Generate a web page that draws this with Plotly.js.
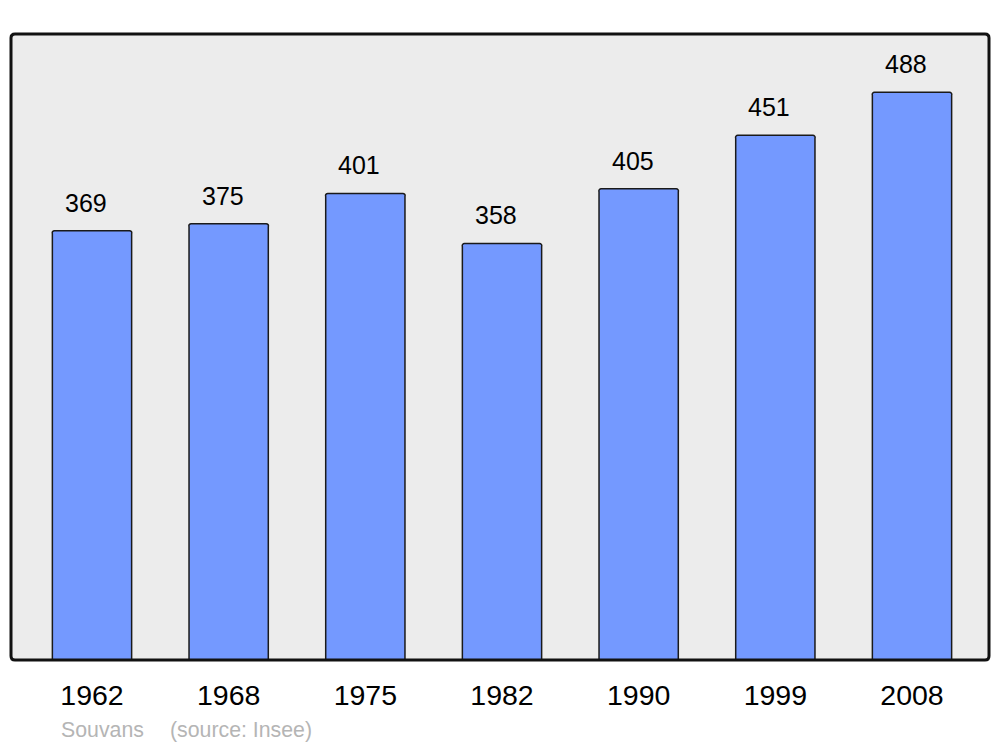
<!DOCTYPE html>
<html>
<head>
<meta charset="utf-8">
<script src="https://cdn.plot.ly/plotly-3.0.1.min.js"></script>
<style>html,body{margin:0;padding:0;background:#fff;}#chart{width:1000px;height:747px;}</style>
</head>
<body>
<div id="chart"></div>
<script>
const years = ["1962", "1968", "1975", "1982", "1990", "1999", "2008"];
const population = [369, 375, 401, 358, 405, 451, 488];
const commune = "Souvans";
const source = "(source: Insee)";

const idx = years.map((_, i) => i);

const W = 1000, H = 747;
const L = 11, R = 11, T = 34, B = 87;
const pw = W - L - R, ph = H - T - B;
const rx = 4 / pw, ry = 4 / ph;
const borderPath = `M ${rx} 0 L ${1 - rx} 0 Q 1 0 1 ${ry} L 1 ${1 - ry} Q 1 1 ${1 - rx} 1 L ${rx} 1 Q 0 1 0 ${1 - ry} L 0 ${ry} Q 0 0 ${rx} 0 Z`;

const trace = {
  type: "bar",
  x: idx,
  y: population,
  width: 0.58,
  marker: {color: "#7499ff", line: {color: "#1a1a1a", width: 1.5}, cornerradius: 3},
  hoverinfo: "none"
};

const annotations = population.map((v, i) => ({
  x: i, y: v, xref: "x", yref: "y",
  text: String(v), showarrow: false,
  xanchor: "center", yanchor: "middle",
  xshift: -6, yshift: 28,
  font: {family: "Liberation Sans, Arial, sans-serif", size: 25, color: "#000"}
}));
annotations.push({
  xref: "paper", yref: "paper", x: (59 - L) / pw, y: -(730 - (H - B)) / ph,
  xanchor: "left", yanchor: "middle", showarrow: false, text: commune,
  font: {family: "Liberation Sans, Arial, sans-serif", size: 21.3, color: "#b5b5b5"}
});
annotations.push({
  xref: "paper", yref: "paper", x: (168 - L) / pw, y: -(730 - (H - B)) / ph,
  xanchor: "left", yanchor: "middle", showarrow: false, text: source,
  font: {family: "Liberation Sans, Arial, sans-serif", size: 21.3, color: "#b5b5b5"}
});

const x0 = 92, x6 = 912, unit = (x6 - x0) / 6;

const layout = {
  width: W, height: H,
  margin: {l: L, r: R, t: T, b: B, pad: 0},
  paper_bgcolor: "#ffffff",
  plot_bgcolor: "#ececec",
  showlegend: false,
  bargap: 0,
  xaxis: {
    range: [(L - x0) / unit, 6 + (W - R - x6) / unit],
    tickmode: "array", tickvals: idx, ticktext: years,
    showgrid: false, zeroline: false, showline: false,
    ticks: "", ticklabelstandoff: 15,
    tickfont: {family: "Liberation Sans, Arial, sans-serif", size: 28.5, color: "#000"},
    fixedrange: true
  },
  yaxis: {
    range: [0, 538],
    showgrid: false, zeroline: false, showline: false,
    showticklabels: false, ticks: "",
    fixedrange: true
  },
  shapes: [{
    type: "path", xref: "paper", yref: "paper", path: borderPath,
    line: {color: "#111111", width: 3}, fillcolor: "rgba(0,0,0,0)", layer: "above"
  }],
  annotations: annotations
};

Plotly.newPlot("chart", [trace], layout, {displayModeBar: false, staticPlot: true});
</script>
</body>
</html>
